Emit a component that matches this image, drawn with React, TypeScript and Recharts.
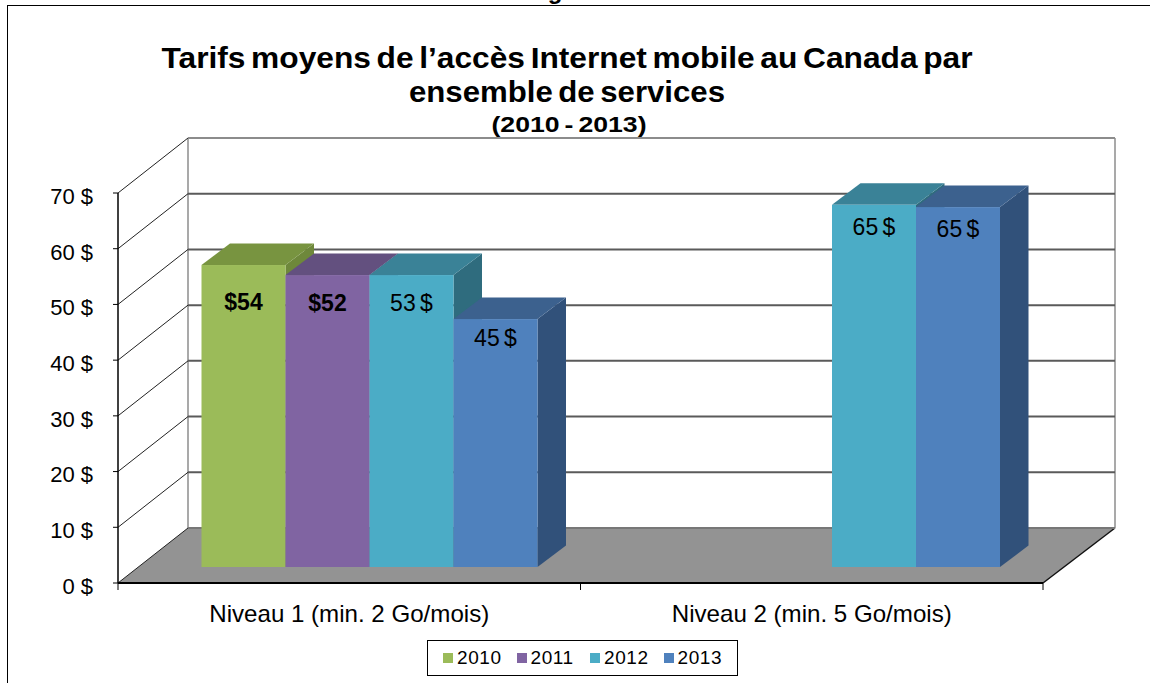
import { BarChart, Bar, XAxis, YAxis, CartesianGrid, Legend, LabelList } from 'recharts';

const categories = ['Niveau 1 (min. 2 Go/mois)', 'Niveau 2 (min. 5 Go/mois)'];
const yTicks = [0, 10, 20, 30, 40, 50, 60, 70];

const values2010 = [54.2, null];
const values2011 = [52.4, null];
const values2012 = [52.4, 65];
const values2013 = [44.5, 64.6];

const labels2010 = ['$54', null];
const labels2011 = ['$52', null];
const labels2012 = ['53 $', '65 $'];
const labels2013 = ['45 $', '65 $'];

const data = categories.map((name, i) => ({
    name,
    v2010: values2010[i],
    v2011: values2011[i],
    v2012: values2012[i],
    v2013: values2013[i],
    l2010: labels2010[i],
    l2011: labels2011[i],
    l2012: labels2012[i],
    l2013: labels2013[i],
}));

const FONT = '"Liberation Sans", Arial, sans-serif';
const WIDTH = 1150;
const HEIGHT = 683;
const LEFT = 118;
const RIGHT = 1043;
const TOP = 193;
const FLOOR = 583;

// 3D look: the back wall sits up and to the right of the axes
const WALL_DX = 70;
const WALL_DY = -55;
const BAR_DX = 21;
const BAR_DY = -16;
const DEPTH_X = 28.5;
const DEPTH_Y = -21.5;

const SHADES: Record<string, { top: string; side: string }> = {
    '#9BBB59': { top: '#789440', side: '#6E883B' },
    '#8064A2': { top: '#63507F', side: '#5A4873' },
    '#4BACC6': { top: '#3A8297', side: '#2F6C7E' },
    '#4F81BD': { top: '#3C618E', side: '#31517A' },
};

function Box3D(props: any) {
    const { x, y, width, height, fill } = props;
    if (!height || height <= 0) return null;
    const l = x + BAR_DX;
    const r = l + width;
    const t = y + BAR_DY;
    const b = t + height;
    const shade = SHADES[fill];
    return (
        <g>
            <polygon
                points={`${r},${t} ${r + DEPTH_X},${t + DEPTH_Y} ${r + DEPTH_X},${b + DEPTH_Y} ${r},${b}`}
                fill={shade.side}
            />
            <polygon
                points={`${l},${t} ${l + DEPTH_X},${t + DEPTH_Y} ${r + DEPTH_X},${t + DEPTH_Y} ${r},${t}`}
                fill={shade.top}
            />
            <rect x={l} y={t} width={width} height={height} fill={fill} />
        </g>
    );
}

function WallLine(props: any) {
    const { x1, y1, x2, index } = props;
    const isFloor = Math.abs(y1 - FLOOR) < 1;
    const isTop = Math.abs(y1 - TOP) < 1;
    const backY = y1 + WALL_DY;
    return (
        <g key={`wall-${index}`}>
            {isFloor && (
                <polygon
                    points={`${x1},${y1} ${x1 + WALL_DX},${backY} ${x2 + 72},${backY} ${x2},${y1}`}
                    fill="#939393"
                />
            )}
            {isFloor && (
                <>
                    <line x1={x1 + WALL_DX} y1={backY} x2={x1 + WALL_DX} y2={TOP + WALL_DY} stroke="#8c8c8c" strokeWidth={1.5} />
                    <line x1={x2 + 72} y1={backY} x2={x2 + 72} y2={TOP + WALL_DY} stroke="#8c8c8c" strokeWidth={1.5} />
                    <line x1={x2} y1={y1} x2={x2 + 72} y2={backY} stroke="#111" strokeWidth={1.5} />
                </>
            )}
            <line x1={x1} y1={y1} x2={x1 + WALL_DX} y2={backY} stroke="#222" strokeWidth={1} />
            <line
                x1={x1 + WALL_DX}
                y1={backY}
                x2={x2 + 72}
                y2={backY}
                stroke={isFloor ? '#777' : isTop ? '#8c8c8c' : '#5a5a5a'}
                strokeWidth={2}
            />
        </g>
    );
}

function CategoryTick(props: any) {
    const { x, payload, index } = props;
    const band = (RIGHT - LEFT) / categories.length;
    const left = x - band / 2;
    const right = x + band / 2;
    return (
        <g>
            <line x1={left} y1={FLOOR} x2={left} y2={FLOOR + 7} stroke="#000" />
            {index === categories.length - 1 && <line x1={right} y1={FLOOR} x2={right} y2={FLOOR + 7} stroke="#000" />}
            <text x={x} y={622} textAnchor="middle" fontFamily={FONT} fontSize={24} fill="#000" textLength={280} lengthAdjust="spacingAndGlyphs">
                {payload.value}
            </text>
        </g>
    );
}

const LABEL_OFFSETS: Record<string, number> = {
    '$54': 45,
    '$52': 36,
    '53 $': 36,
    '45 $': 27,
    '65 $': 30,
};

function BarLabel(props: any) {
    const { x, y, width, value } = props;
    if (!value) return null;
    return (
        <text
            x={x + BAR_DX + width / 2}
            y={y + BAR_DY + LABEL_OFFSETS[value]}
            textAnchor="middle"
            fontFamily={FONT}
            fontSize={23}
            fontWeight={value.startsWith('$') ? 700 : 400}
            wordSpacing={-2}
            fill="#000"
        >
            {value}
        </text>
    );
}

function LegendBox({ payload }: any) {
    return (
        <div
            style={{
                boxSizing: 'border-box',
                width: 311,
                height: 36,
                border: '1.5px solid #000',
                background: '#fff',
                display: 'flex',
                alignItems: 'center',
                paddingLeft: 15,
                fontFamily: FONT,
                fontSize: 19,
                letterSpacing: 0.6,
                color: '#000',
            }}
        >
            {(payload || []).map((item: any) => (
                <div key={item.value} style={{ display: 'flex', alignItems: 'center', width: 75 }}>
                    <span style={{ width: 10, height: 10, background: item.color, marginRight: 4 }} />
                    {item.value}
                </div>
            ))}
        </div>
    );
}

export default function App() {
    return (
        <div style={{ position: 'absolute', left: 0, top: 0, width: WIDTH, height: HEIGHT, overflow: 'hidden', background: '#fff' }}>
            <div style={{ position: 'absolute', left: 7, top: 5, right: 0, bottom: 0, borderLeft: '1.5px solid #000', borderTop: '1.5px solid #000' }} />
            <BarChart
                width={WIDTH}
                height={HEIGHT}
                data={data}
                barCategoryGap={62.5}
                barGap={0}
                margin={{ top: TOP, left: LEFT - 90, right: WIDTH - RIGHT, bottom: HEIGHT - FLOOR - 40 - 36 }}
                style={{ position: 'absolute', left: 0, top: 0 }}
            >
                <CartesianGrid vertical={false} horizontal={WallLine as any} />
                <XAxis
                    dataKey="name"
                    height={40}
                    tickLine={false}
                    axisLine={{ stroke: '#000', strokeWidth: 2 }}
                    tick={CategoryTick as any}
                    interval={0}
                />
                <YAxis
                    width={90}
                    domain={[0, 70]}
                    ticks={yTicks}
                    tickFormatter={(v: number) => `${v} $`}
                    tickSize={5}
                    tickMargin={20}
                    tick={{ fontFamily: FONT, fontSize: 22, fill: '#000', dy: 3 }}
                    tickLine={{ stroke: '#000' }}
                    axisLine={{ stroke: '#000', strokeWidth: 1.5 }}
                />
                <Legend
                    content={LegendBox as any}
                    wrapperStyle={{ left: 427, top: 640, width: 311, height: 36 }}
                />
                <Bar dataKey="v2010" name="2010" fill="#9BBB59" shape={Box3D} isAnimationActive={false}>
                    <LabelList dataKey="l2010" content={BarLabel} />
                </Bar>
                <Bar dataKey="v2011" name="2011" fill="#8064A2" shape={Box3D} isAnimationActive={false}>
                    <LabelList dataKey="l2011" content={BarLabel} />
                </Bar>
                <Bar dataKey="v2012" name="2012" fill="#4BACC6" shape={Box3D} isAnimationActive={false}>
                    <LabelList dataKey="l2012" content={BarLabel} />
                </Bar>
                <Bar dataKey="v2013" name="2013" fill="#4F81BD" shape={Box3D} isAnimationActive={false}>
                    <LabelList dataKey="l2013" content={BarLabel} />
                </Bar>
                <text x={563} y={-1} textAnchor="middle" fontFamily={FONT} fontSize={24} fontWeight={700}>Figure</text>
                <text x={567} y={68} textAnchor="middle" fontFamily={FONT} fontSize={30} fontWeight={700} textLength={811} lengthAdjust="spacingAndGlyphs" wordSpacing={-3}>
                    Tarifs moyens de l’accès Internet mobile au Canada par
                </text>
                <text x={567} y={102} textAnchor="middle" fontFamily={FONT} fontSize={30} fontWeight={700} textLength={316} lengthAdjust="spacingAndGlyphs" wordSpacing={-3}>
                    ensemble de services
                </text>
                <text x={569} y={132} textAnchor="middle" fontFamily={FONT} fontSize={22} fontWeight={700} textLength={155} lengthAdjust="spacingAndGlyphs" wordSpacing={-2}>
                    (2010 - 2013)
                </text>
            </BarChart>
        </div>
    );
}
